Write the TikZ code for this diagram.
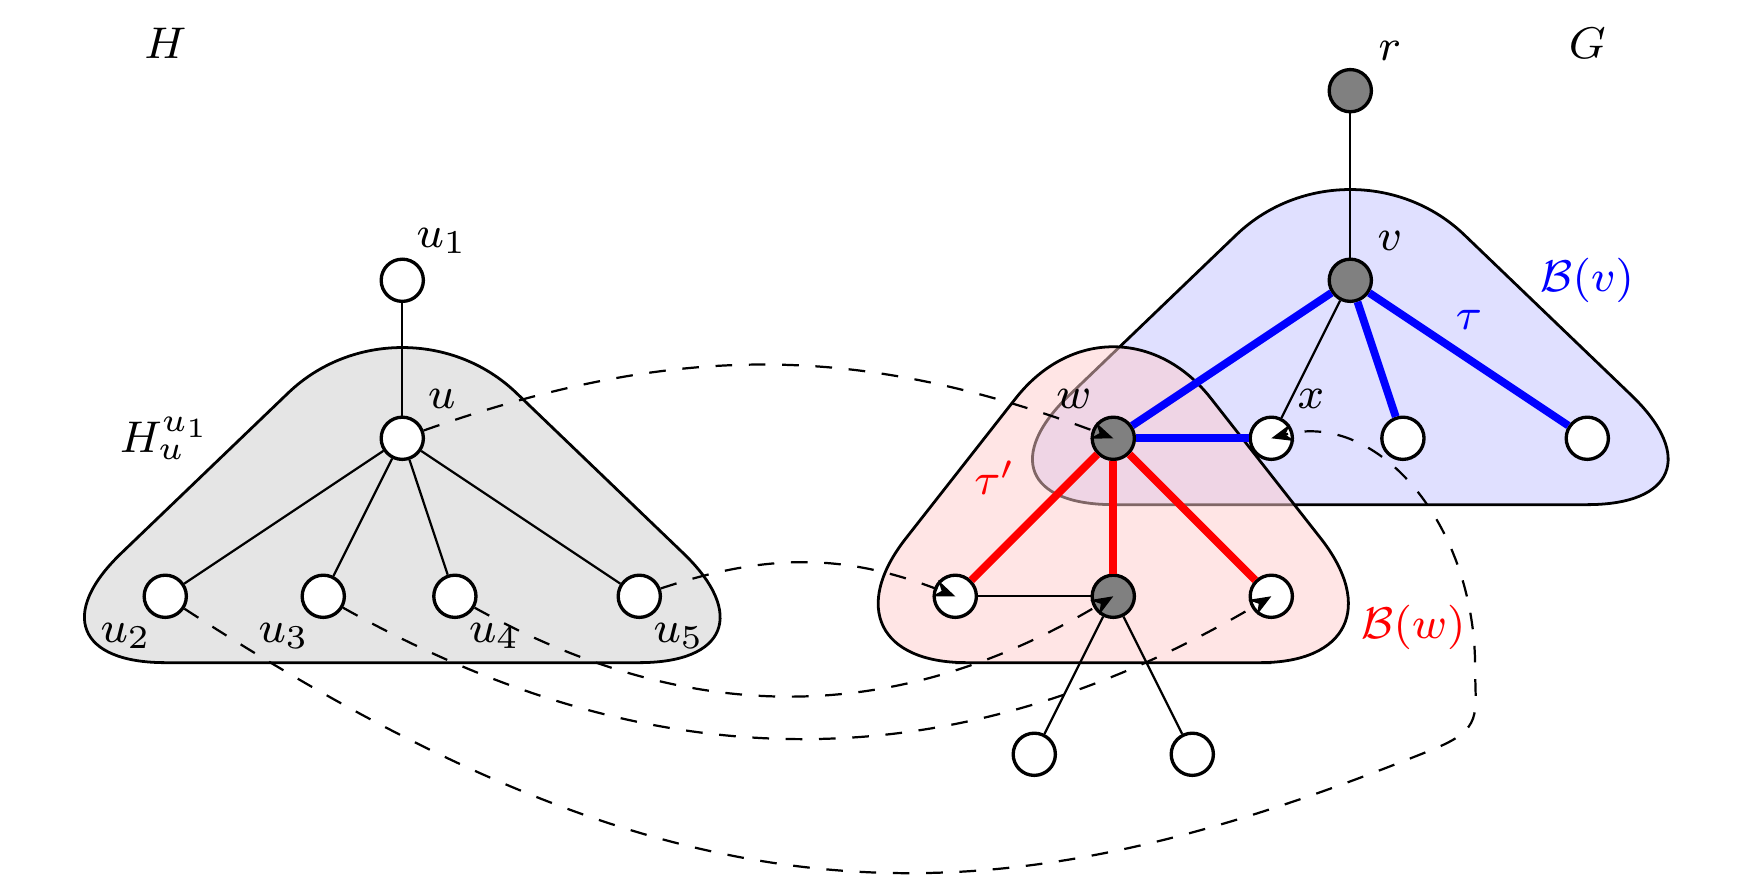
\documentclass[tikz,border=0pt]{standalone}
\usepackage{amsmath}
\usepackage{xcolor}
\usepackage{tikz}
\usetikzlibrary{calc}
\usetikzlibrary{arrows.meta}

\begin{document}
\begin{tikzpicture}[
	font=\footnotesize,
	vertex/.style={circle, draw, semithick, fill=white, inner sep=0pt, minimum size=7.6pt},
	dark/.style={vertex, fill=gray},
	bag/.style={line width=0.5pt, rounded corners=1cm},
	bluepath/.style={line width=1.4pt, blue},
	redpath/.style={line width=1.4pt, red},
	map/.style={dashed, -{Stealth[length=3.9pt, width=3.1pt]}}
	]

	\useasboundingbox (-2.546,-2.872) rectangle (8.593,2.774);

	\def\bagTop{0.98} % apex of the bag
	\def\bagW{2.5} % half width of the bag
	\def\bagB{-1.42} % base of the bag

	% bags
	\draw[bag, fill=gray!20] (0,\bagB) -- (\bagW,\bagB) -- (0,\bagTop) -- (-\bagW,\bagB) -- cycle; % H_u^{u_1}
	\begin{scope}[shift={(6,1)}]
	\draw[bag, fill=blue!12] (0,\bagB) -- (\bagW,\bagB) -- (0,\bagTop) -- (-\bagW,\bagB) -- cycle; % B(v)
	\end{scope}
	\draw[bag, fill=red!20, fill opacity=0.5] (4.5,\bagB) -- (6.43,\bagB) -- (4.5,1.04) -- (2.57,\bagB) -- cycle; % B(w)

	% the graph H
	\node[vertex] (u) at (0,0) {};
	\node[vertex] (u1) at (0,1) {};
	\node[vertex] (u2) at (-1.5,-1) {};
	\node[vertex] (u3) at (-0.5,-1) {};
	\node[vertex] (u4) at (0.333,-1) {};
	\node[vertex] (u5) at (1.5,-1) {};

	% the graph G
	\node[dark] (r) at (6,2.2) {};
	\node[dark] (v) at (6,1) {};
	\node[dark] (w) at (4.5,0) {};
	\node[vertex] (x) at (5.5,0) {};
	\node[vertex] (v3) at (6.333,0) {};
	\node[vertex] (v4) at (7.5,0) {};
	\node[vertex] (w1) at (3.5,-1) {};
	\node[dark] (w2) at (4.5,-1) {};
	\node[vertex] (w3) at (5.5,-1) {};
	\node[vertex] (y1) at (4,-2) {};
	\node[vertex] (y2) at (5,-2) {};

	% labels
	\node (lH) at (-1.5,2.5) {$H$};
	\node (lG) at (7.5,2.5) {$G$};
	\node (lHu) at (-1.5,0) {$H_u^{u_1}$};
	\node (lu1) at (0.25,1.25) {$u_1$};
	\node (lu) at (0.25,0.25) {$u$};
	\node (lu2) at (-1.75,-1.25) {$u_2$};
	\node (lu3) at (-0.75,-1.25) {$u_3$};
	\node (lu4) at (0.583,-1.25) {$u_4$};
	\node (lu5) at (1.75,-1.25) {$u_5$};
	\node (lr) at (6.25,2.45) {$r$};
	\node (lv) at (6.25,1.25) {$v$};
	\node (lw) at (4.25,0.25) {$w$};
	\node (lx) at (5.75,0.25) {$x$};
	\node[blue] (lBv) at (7.5,1) {$\mathcal{B}(v)$};
	\node[blue] (ltau) at (6.75,0.75) {$\tau$};
	\node[red] (ltauw) at (3.75,-0.25) {$\tau'$};
	\node[red] (lBw) at (6.4,-1.2) {$\mathcal{B}(w)$};

	% edges
	\draw (u1) -- (u);
	\foreach \c in {u2,u3,u4,u5}
		\draw (u) -- (\c);
	\draw (r) -- (v);
	\draw (v) -- (x);
	\draw (w1) -- (w2);
	\draw (w2) -- (y1);
	\draw (w2) -- (y2);
	\foreach \a/\b in {w/v, w/x, v/v3, v/v4}
		\draw[bluepath] (\a) -- (\b); % tau
	\foreach \c in {w1,w2,w3}
		\draw[redpath] (w) -- (\c); % tau'

	% the mapping
	\coordinate (turnA) at (6.52,-1.97);
	\coordinate (turnB) at (6.79,-1.45);
	\draw[map] (u) to[bend left=20] (w.center);
	\draw[map] (u5) to[bend left=20] (w1.center);
	\draw[map] (u4) to[bend right=30] (w2.center);
	\draw[map] (u3) to[bend right=30] (w3.center);
	\draw[map] (u2) .. controls +(-33:4) and +(202:3) .. (turnA)
		.. controls +(22:0.35) and +(-90:0.3) .. (turnB)
		.. controls +(90:0.9) and +(15:0.7) .. (x.center);

\end{tikzpicture}
\end{document}
